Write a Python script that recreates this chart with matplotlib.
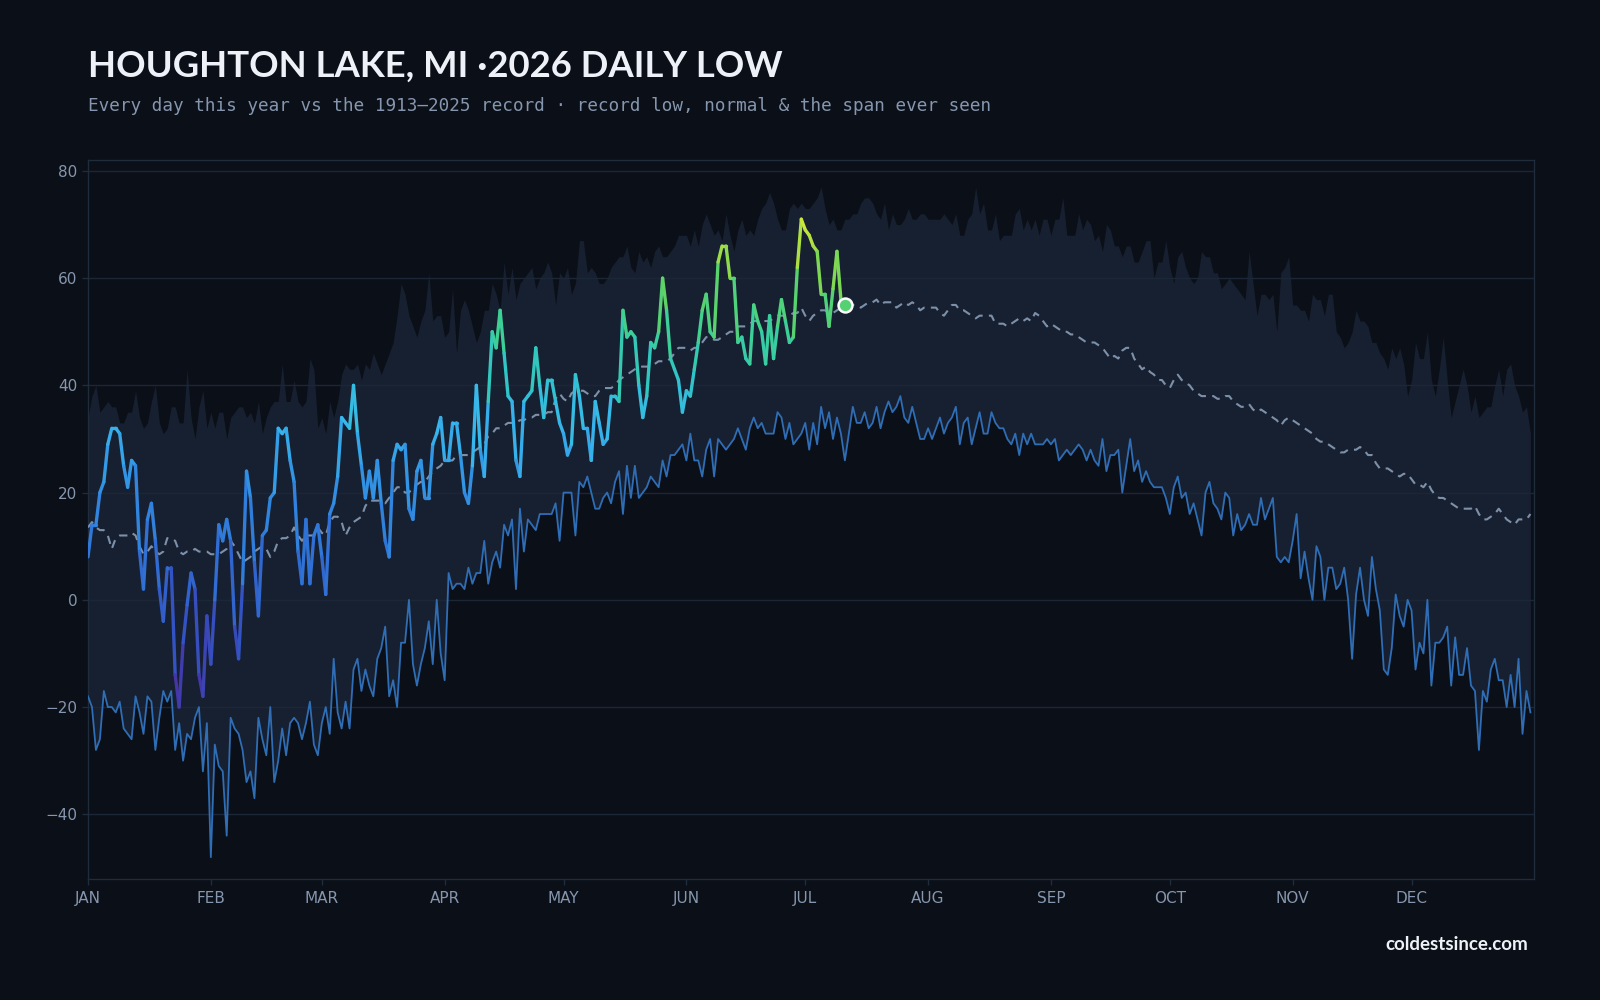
import matplotlib
matplotlib.use("Agg")
import matplotlib.pyplot as plt
from matplotlib.collections import LineCollection
from matplotlib.colors import LinearSegmentedColormap, Normalize
import numpy as np

# ---- data (deg F), day-of-year index 0 = Jan 1 ----
rec_low = [-18, -20, -28, -26, -17, -20, -20, -21, -19, -24, -25, -26, -18, -21, -25, -18, -19, -28, -22, -17,
           -19, -17, -28, -23, -30, -25, -26, -22, -20, -32, -23, -48, -27, -31, -32, -44, -22, -24, -25, -28,
           -34, -32, -37, -22, -26, -29, -20, -34, -30, -24, -29, -23, -22, -23, -26, -23, -19, -27, -29, -23,
           -20, -25, -11, -21, -24, -19, -24, -13, -11, -17, -13, -16, -18, -11, -9, -5, -18, -15, -20, -8,
           -8, 0, -12, -16, -12, -9, -4, -12, 0, -10, -15, 5, 2, 3, 3, 2, 6, 3, 5, 5,
           11, 3, 7, 9, 6, 14, 12, 15, 2, 17, 9, 15, 14, 13, 16, 16, 16, 16, 18, 11,
           20, 20, 20, 12, 22, 21, 23, 20, 17, 17, 19, 20, 18, 22, 24, 16, 25, 19, 25, 19,
           20, 21, 23, 22, 21, 26, 23, 27, 27, 28, 29, 26, 31, 26, 26, 23, 28, 30, 23, 30,
           29, 28, 29, 30, 32, 30, 28, 32, 34, 32, 33, 31, 31, 31, 35, 34, 30, 33, 29, 30,
           31, 33, 28, 33, 29, 36, 32, 35, 30, 34, 31, 26, 31, 36, 33, 33, 35, 32, 33, 36,
           32, 35, 37, 35, 36, 38, 34, 33, 36, 33, 30, 30, 32, 30, 32, 34, 31, 33, 34, 36,
           29, 33, 34, 29, 32, 35, 31, 31, 35, 33, 32, 32, 30, 29, 31, 27, 31, 29, 31, 29,
           29, 29, 30, 29, 30, 26, 27, 28, 27, 28, 29, 28, 26, 28, 26, 25, 30, 24, 27, 27,
           28, 20, 25, 30, 24, 26, 22, 24, 22, 21, 21, 21, 19, 16, 21, 23, 19, 20, 16, 18,
           15, 12, 20, 22, 18, 17, 15, 20, 19, 12, 16, 13, 14, 16, 14, 14, 19, 15, 17, 19,
           8, 7, 8, 7, 11, 16, 4, 9, 4, 0, 10, 8, 0, 6, 6, 2, 3, 6, 0, -11,
           1, 6, 0, -3, 8, 2, -2, -13, -14, -9, 1, -3, -5, 0, -2, -13, -8, -10, 0, -16,
           -8, -8, -7, -5, -16, -7, -14, -14, -9, -16, -17, -28, -17, -19, -13, -11, -15, -15, -20, -14,
           -20, -11, -25, -17, -21]

rec_high = [34, 38, 40, 35, 36, 37, 36, 36, 33, 33, 35, 35, 39, 34, 32, 33, 37, 40, 33, 31,
            32, 36, 36, 33, 33, 43, 34, 30, 36, 39, 32, 35, 32, 35, 35, 30, 34, 35, 36, 36,
            34, 35, 33, 37, 31, 34, 36, 37, 37, 44, 37, 37, 41, 37, 36, 37, 45, 43, 32, 34,
            31, 37, 34, 37, 42, 44, 43, 43, 44, 41, 44, 43, 46, 44, 42, 44, 46, 48, 53, 59,
            57, 53, 51, 49, 52, 54, 61, 52, 53, 53, 49, 50, 58, 46, 54, 56, 54, 51, 48, 50,
            54, 54, 59, 57, 54, 63, 57, 62, 56, 59, 60, 61, 62, 58, 60, 61, 63, 61, 55, 61,
            60, 62, 57, 59, 67, 67, 61, 62, 61, 59, 59, 60, 62, 63, 64, 64, 66, 62, 61, 65,
            63, 64, 62, 65, 66, 64, 64, 65, 66, 68, 68, 68, 66, 69, 66, 70, 72, 70, 68, 69,
            67, 72, 68, 65, 69, 71, 68, 69, 68, 71, 73, 74, 76, 74, 71, 69, 69, 73, 74, 73,
            74, 73, 73, 74, 75, 77, 73, 70, 71, 69, 69, 71, 71, 72, 72, 74, 75, 75, 74, 72,
            71, 74, 69, 72, 70, 70, 71, 73, 71, 71, 72, 72, 71, 71, 71, 71, 72, 71, 70, 72,
            68, 68, 71, 72, 77, 72, 74, 69, 69, 72, 67, 68, 68, 68, 72, 73, 69, 71, 69, 71,
            68, 71, 71, 68, 71, 71, 75, 68, 68, 68, 72, 69, 71, 70, 67, 68, 65, 70, 69, 66,
            66, 64, 66, 66, 63, 63, 65, 67, 67, 60, 63, 63, 67, 62, 59, 64, 65, 62, 60, 59,
            60, 65, 64, 64, 61, 61, 58, 59, 60, 59, 58, 57, 56, 65, 59, 53, 57, 57, 56, 57,
            50, 61, 62, 64, 55, 55, 54, 54, 52, 57, 56, 56, 53, 57, 57, 50, 49, 47, 48, 50,
            54, 52, 52, 51, 48, 48, 46, 45, 43, 47, 45, 47, 44, 38, 41, 48, 45, 45, 50, 41,
            38, 43, 49, 41, 34, 37, 40, 43, 40, 35, 38, 34, 35, 36, 36, 40, 43, 38, 43, 44,
            40, 38, 35, 36, 31]

normal = [13.5, 14.5, 13.5, 13, 13, 12, 9.5, 11.5, 12, 12, 12, 12.5, 12, 10, 8.5, 9, 10, 9, 8.5, 9,
          11.5, 11.5, 11, 9, 8.5, 9, 9, 9.5, 9, 9, 9, 8.5, 8.5, 8.5, 9, 9.5, 11, 10, 8.5, 7,
          7.5, 8, 9, 9.5, 10, 9.5, 8, 9, 11, 11.5, 11.5, 12, 13.5, 12, 11, 12, 12, 12, 13.5, 12.5,
          12, 14.5, 15.5, 15.5, 14.5, 12, 13.5, 14.5, 15, 15.5, 17.5, 18.5, 18.5, 18.5, 18.5, 18, 19, 20, 21, 21,
          20, 20, 21, 21.5, 22, 22, 23, 24, 24.5, 25, 26, 26, 26, 27, 27, 27, 27, 27.5, 28, 28.5,
          29, 30.5, 31, 32, 32, 32.5, 33, 33, 33, 33.5, 33.5, 34, 34, 34.5, 34.5, 34.5, 35, 35, 37.5, 38.5,
          37.5, 37, 38.5, 39, 39, 39, 38.5, 38, 38, 39, 39.5, 39.5, 39.5, 40, 41, 41.5, 42, 42.5, 43, 43.5,
          43.5, 43.5, 43.5, 44, 44.5, 44.5, 44.5, 45, 46, 47, 47, 47, 46.5, 47, 47, 48, 49, 49, 48.5, 48.5,
          49, 49.5, 50, 50, 51, 51, 51, 51.5, 52, 52, 52, 52, 52, 52.5, 53, 53, 53, 53, 53.5, 53.5,
          54.5, 53, 52, 53, 53.5, 54, 54, 53.5, 53.5, 54, 54.5, 54.5, 55, 55, 55, 54.5, 55, 55.5, 55.5, 56,
          55, 55.5, 55.5, 55.5, 54.5, 55, 55.5, 55, 55.5, 55, 54, 54.5, 54.5, 54.5, 54.5, 53.5, 53, 54, 55, 55,
          54, 54, 53.5, 53, 52.5, 53, 53, 53, 53, 51.5, 51.5, 51.5, 51, 51.5, 52, 52.5, 52, 52.5, 52, 53.5,
          53, 52, 51, 51.5, 51, 50.5, 50, 50, 49.5, 49.5, 49, 48.5, 48, 48, 48, 47.5, 47, 46, 45, 45.5,
          45, 46.5, 47, 47, 45, 44, 43, 43.5, 42.5, 42, 41, 41, 40, 39.5, 41, 42, 41, 40.5, 40, 39,
          38.5, 38, 38, 38, 38, 37.5, 37.5, 38, 38, 37, 36.5, 36, 36, 36.5, 35.5, 35, 35.5, 35, 34.5, 34,
          33.5, 32.5, 33.5, 34, 33.5, 33, 32.5, 32, 31.5, 31, 30, 29.5, 29.5, 29, 28.5, 28, 27.5, 27.5, 28, 28,
          28, 28.5, 28, 27, 27, 25.5, 24.5, 24.5, 24.5, 24, 23.5, 23, 23.5, 23.5, 22.5, 21.5, 21.5, 21, 22, 20.5,
          19.5, 19, 19, 18.5, 18, 17.5, 17, 17, 17, 17, 17.5, 16, 15, 15, 15.5, 16, 17, 16, 15, 14.5,
          14, 15, 15, 15, 16]

low_2026 = [8, 14, 14, 20, 22, 29, 32, 32, 31, 25, 21, 26, 25, 9, 2, 15, 18, 11, 2, -4,
            6, 6, -14, -20, -8, -1, 5, 2, -14, -18, -3, -12, 0, 14, 11, 15, 11, -5, -11, 3,
            24, 19, 7, -3, 12, 13, 19, 20, 32, 31, 32, 26, 22, 9, 3, 15, 3, 12, 14, 8,
            1, 16, 18, 23, 34, 33, 32, 40, 31, 25, 19, 24, 19, 26, 18, 11, 8, 26, 29, 28,
            29, 17, 15, 24, 26, 19, 19, 29, 31, 34, 26, 26, 33, 33, 27, 20, 18, 25, 40, 28,
            23, 37, 50, 47, 54, 46, 38, 37, 26, 23, 37, 38, 39, 47, 40, 34, 41, 41, 37, 33,
            31, 27, 29, 42, 38, 32, 32, 26, 37, 33, 29, 30, 38, 38, 37, 54, 49, 50, 49, 40,
            34, 38, 48, 47, 50, 60, 54, 45, 43, 41, 35, 39, 38, 43, 48, 54, 57, 50, 49, 63,
            66, 66, 60, 60, 48, 49, 45, 44, 55, 52, 50, 44, 53, 45, 51, 56, 52, 48, 49, 62,
            71, 69, 68, 66, 65, 57, 57, 51, 58, 65, 56, 55]

month_starts = [0, 31, 59, 90, 120, 151, 181, 212, 243, 273, 304, 334]
month_labels = ["JAN", "FEB", "MAR", "APR", "MAY", "JUN", "JUL", "AUG", "SEP", "OCT", "NOV", "DEC"]

BG = "#0b0f17"
BAND = "#172030"
GRID = "#1b2636"
SPINE = "#1f2c3c"
TICK = "#8596ae"

days = np.arange(len(rec_low))
d26 = np.arange(len(low_2026))
y26 = np.array(low_2026, dtype=float)

fig = plt.figure(figsize=(16, 10), dpi=100, facecolor=BG)
ax = fig.add_axes([0.055, 0.1214, 0.904, 0.7184])
ax.set_facecolor(BG)

# span ever seen
ax.fill_between(days, rec_low, rec_high, color=BAND, lw=0, zorder=1)
for v in range(-40, 81, 20):
    ax.axhline(v, color=GRID, lw=1, zorder=1.5)

# record low
ax.plot(days, rec_low, color="#2f6db5", lw=1.3, zorder=3)
# normal
ax.plot(days, normal, color="#7d90aa", lw=1.5, dashes=(4, 3), zorder=3)

# 2026 line coloured by temperature
cmap = LinearSegmentedColormap.from_list("temps", [
    (0.00, "#4a2fa0"), (0.16, "#3450c0"), (0.33, "#2f76d8"), (0.49, "#3399e6"),
    (0.58, "#38b8ec"), (0.67, "#2fc4c8"), (0.76, "#3ccf98"), (0.85, "#64d35e"),
    (0.935, "#a8de45"), (1.00, "#dde83a")])
norm = Normalize(-20, 72)
pts = np.column_stack([d26, y26]).reshape(-1, 1, 2)
segs = np.concatenate([pts[:-1], pts[1:]], axis=1)
lc = LineCollection(segs, cmap=cmap, norm=norm, linewidths=2.4, capstyle="round", joinstyle="round", zorder=4)
lc.set_array((y26[:-1] + y26[1:]) / 2)
ax.add_collection(lc)
ax.plot(d26[-1], y26[-1], "o", ms=10, mfc=cmap(norm(y26[-1])), mec="white", mew=1.8, zorder=5)

ax.set_xlim(0, 365)
ax.set_ylim(-52, 82)
ax.set_yticks(range(-40, 81, 20))
ax.set_xticks(month_starts)
ax.set_xticklabels(month_labels)
ax.tick_params(colors=SPINE, labelcolor=TICK, labelsize=11, length=4, width=1)
ax.tick_params(axis="x", pad=5)
for s in ax.spines.values():
    s.set_color(SPINE)
    s.set_linewidth(1)

fig.text(0.055, 0.9235, "HOUGHTON LAKE, MI \u00b72026 DAILY LOW", fontsize=26.3, fontweight="bold",
         family="Lato", color="#eef2f8", va="baseline", ha="left")
fig.text(0.055, 0.894, "Every day this year vs the 1913\u20132025 record \u00b7 record low, normal & the span ever seen",
         fontsize=12.7, family="DejaVu Sans Mono", color="#8596ae", va="center", ha="left")
fig.text(0.955, 0.056, "coldestsince.com", fontsize=13.5, fontweight="bold", family="Lato",
         color="#eef2f8", va="center", ha="right")

fig.savefig("out.png", dpi=100, facecolor=BG)
